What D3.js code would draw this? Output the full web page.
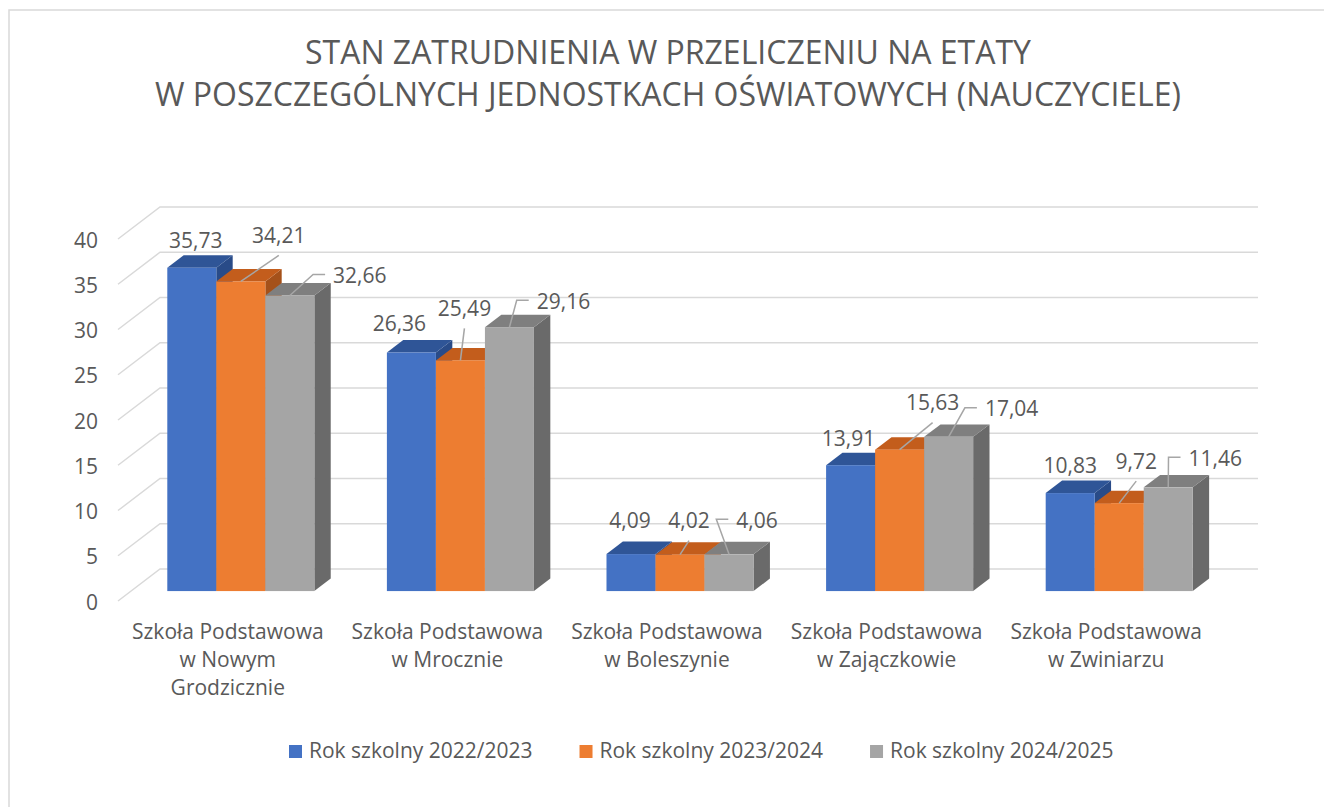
<!DOCTYPE html>
<html lang="pl">
<head>
<meta charset="UTF-8">
<title>Stan zatrudnienia (nauczyciele)</title>
<script src="https://cdn.jsdelivr.net/npm/d3@7"></script>
<style>
  body { margin: 0; background: #fff; }
  text { font-family: "Open Sans", sans-serif; fill: #595959; }
</style>
</head>
<body>
<div id="chart"></div>
<script>
// ---- data ----
var schools = [
  ["Szkoła Podstawowa", "w Nowym", "Grodzicznie"],
  ["Szkoła Podstawowa", "w Mrocznie"],
  ["Szkoła Podstawowa", "w Boleszynie"],
  ["Szkoła Podstawowa", "w Zajączkowie"],
  ["Szkoła Podstawowa", "w Zwiniarzu"]
];
var seriesNames = ["Rok szkolny 2022/2023", "Rok szkolny 2023/2024", "Rok szkolny 2024/2025"];
var year2022 = [35.73, 26.36, 4.09, 13.91, 10.83];
var year2023 = [34.21, 25.49, 4.02, 15.63, 9.72];
var year2024 = [32.66, 29.16, 4.06, 17.04, 11.46];
var yTicks = [0, 5, 10, 15, 20, 25, 30, 35, 40];
var titleLines = ["STAN ZATRUDNIENIA W PRZELICZENIU NA ETATY",
                  "W POSZCZEGÓLNYCH JEDNOSTKACH OŚWIATOWYCH (NAUCZYCIELE)"];

// label placement (offset of label centre from the bar's front top edge) and leader kind
var labelLayout = [
  [[4, -25, ""], [38, -44, "line"], [70, -18, "elbow"]],
  [[-12, -27, ""], [4, -50, "line"], [54, -24, "elbow"]],
  [[-1, -32, ""], [9, -32, "line"], [28, -32, "elbow"]],
  [[-2, -25, ""], [33, -45, "line"], [63, -26, "elbow"]],
  [[0, -26, ""], [17, -40, "line"], [47, -27, "elbow"]]
];

var values = [year2022, year2023, year2024];
var frontColor = ["#4472C4", "#ED7D31", "#A5A5A5"];
var topColor = ["#2F5597", "#C35D1C", "#7F7F7F"];
var sideColor = ["#294B88", "#A5511A", "#6A6A6A"];

var width = 1324, height = 807;
var svg = d3.select("#chart").append("svg")
  .attr("width", width).attr("height", height);

// outer frame (only top and left edges show)
svg.append("path")
  .attr("d", "M9,807 V10 H1324")
  .attr("fill", "none")
  .attr("stroke", "#d9d9d9")
  .attr("stroke-width", 1.5);

// title
svg.append("g").selectAll("text")
  .data(titleLines)
  .enter()
  .append("text")
  .attr("x", 668)
  .attr("y", function(d, i){ return 64 + i * 42; })
  .attr("text-anchor", "middle")
  .style("font-size", "32px")
  .text(function(d){ return d; });

// 3d geometry
var depthX = 42, depthY = -32;
var d1 = 0.31, d2 = 0.70;

var x = d3.scaleBand().domain(d3.range(schools.length)).range([118, 1216]);
var xs = d3.scaleBand().domain(d3.range(3)).range([0, x.bandwidth()])
  .paddingInner(0).paddingOuter(0.74);
var y = d3.scaleLinear().domain([0, 40]).range([601, 239]);

// gridlines: left wall diagonal + back wall
var grid = svg.append("g");
grid.selectAll("path")
  .data(yTicks)
  .enter()
  .append("path")
  .attr("d", function(t){
    return "M118," + y(t) + " l" + depthX + "," + depthY + " H" + (1216 + depthX);
  })
  .attr("fill", "none")
  .attr("stroke", "#d9d9d9")
  .attr("stroke-width", 1.5);

// y axis labels
svg.append("g").selectAll("text")
  .data(yTicks)
  .enter()
  .append("text")
  .attr("x", 98)
  .attr("y", function(t){ return y(t) + 3; })
  .attr("text-anchor", "end")
  .attr("dominant-baseline", "middle")
  .style("font-size", "21px")
  .text(function(t){ return t; });

// bars
var bars = [];
schools.forEach(function(s, g){
  values.forEach(function(vals, k){
    var v = vals[g];
    var bw = xs.bandwidth();
    var fx = x(g) + xs(k) + d1 * depthX;
    var fy = y(v) + d1 * depthY;
    var fb = y(0) + d1 * depthY;
    var ddx = (d2 - d1) * depthX, ddy = (d2 - d1) * depthY;
    bars.push({g: g, k: k, v: v, fx: fx, fy: fy, fb: fb, bw: bw, ddx: ddx, ddy: ddy});
  });
});

var barG = svg.append("g");
bars.forEach(function(b){
  barG.append("polygon")
    .attr("points", [[b.fx + b.bw, b.fy], [b.fx + b.bw + b.ddx, b.fy + b.ddy],
                     [b.fx + b.bw + b.ddx, b.fb + b.ddy], [b.fx + b.bw, b.fb]].join(" "))
    .attr("fill", sideColor[b.k]);
  barG.append("polygon")
    .attr("points", [[b.fx, b.fy], [b.fx + b.bw, b.fy],
                     [b.fx + b.bw + b.ddx, b.fy + b.ddy], [b.fx + b.ddx, b.fy + b.ddy]].join(" "))
    .attr("fill", topColor[b.k]);
  barG.append("rect")
    .attr("x", b.fx)
    .attr("y", b.fy)
    .attr("width", b.bw)
    .attr("height", b.fb - b.fy)
    .attr("fill", frontColor[b.k]);
});

// data labels with leader lines
var fmt = function(v){ return v.toFixed(2).replace(".", ","); };
var labelG = svg.append("g");
bars.forEach(function(b){
  var lay = labelLayout[b.g][b.k];
  var ax = b.fx + b.bw / 2, ay = b.fy;
  var cx = ax + lay[0], cy = ay + lay[1];
  var t = labelG.append("text")
    .attr("x", cx)
    .attr("y", cy)
    .attr("text-anchor", "middle")
    .attr("dominant-baseline", "middle")
    .style("font-size", "21px")
    .text(fmt(b.v));
  var w = t.node().getComputedTextLength();
  var left = cx - w / 2;
  var pts = null;
  if (lay[2] == "line") {
    pts = [[ax, ay], [cx, cy + 18]];
  } else if (lay[2] == "elbow") {
    pts = [[ax, ay], [left - 20, cy - 3], [left - 8, cy - 3]];
  }
  if (pts) {
    labelG.append("polyline")
      .attr("points", pts.join(" "))
      .attr("fill", "none")
      .attr("stroke", "#a6a6a6")
      .attr("stroke-width", 1.5);
  }
});

// category labels
var catG = svg.append("g");
schools.forEach(function(lines, g){
  var cx = x(g) + x.bandwidth() / 2;
  lines.forEach(function(line, i){
    catG.append("text")
      .attr("x", cx)
      .attr("y", 639 + i * 28)
      .attr("text-anchor", "middle")
      .style("font-size", "21px")
      .text(line);
  });
});

// legend
var legend = svg.append("g");
var lx = 289;
seriesNames.forEach(function(name, k){
  legend.append("rect")
    .attr("x", lx)
    .attr("y", 745)
    .attr("width", 13)
    .attr("height", 13)
    .attr("fill", frontColor[k]);
  var t = legend.append("text")
    .attr("x", lx + 20)
    .attr("y", 758)
    .style("font-size", "21px")
    .text(name);
  lx += 20 + t.node().getComputedTextLength() + 47;
});
</script>
</body>
</html>
